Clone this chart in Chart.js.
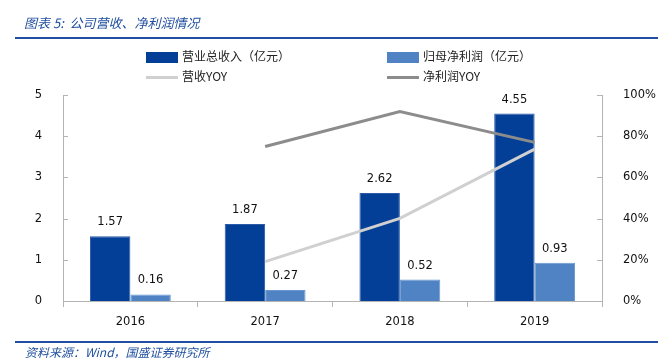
<!DOCTYPE html>
<html>
<head>
<meta charset="utf-8">
<script src="https://cdn.jsdelivr.net/npm/chart.js@4/dist/chart.umd.min.js"></script>
<style>
  html, body { margin: 0; padding: 0; background: #fff; }
  #wrap { position: relative; width: 670px; height: 362px; overflow: hidden; }
  #c { position: absolute; left: 0; top: 0; }
  .title { position: absolute; left: 24px; top: 13px; font: italic 13px "Noto Sans CJK SC", sans-serif; color: #1f4e9e; white-space: nowrap; }
  .rule { position: absolute; left: 15px; width: 643px; height: 2px; background: #1f4fa3; }
  .foot { position: absolute; left: 25px; top: 343px; font: italic 12px "Noto Sans CJK SC", sans-serif; color: #1f4e9e; white-space: nowrap; }
  .lg { position: absolute; font: 12px "Noto Sans CJK SC", sans-serif; color: #222; white-space: nowrap; line-height: 16px; }
  .sw { position: absolute; }
</style>
</head>
<body>
<div id="wrap">
  <canvas id="c" width="670" height="362"></canvas>
  <div class="title">图表 5:&nbsp; 公司营收、净利润情况</div>
  <div class="rule" style="top:37px"></div>
  <div class="rule" style="top:341px"></div>
  <div class="foot">资料来源：Wind，国盛证券研究所</div>
  <div id="legend"></div>
</div>
<script>
var years = ["2016", "2017", "2018", "2019"];
var revenue = [1.57, 1.87, 2.62, 4.55];
var netProfit = [0.16, 0.27, 0.52, 0.93];
var revenueYoy = [null, 19.1, 40.1, 73.7];
var profitYoy = [null, 75, 92, 77];
var leftTicks = [0, 1, 2, 3, 4, 5];
var rightTicks = [0, 20, 40, 60, 80, 100];

var axisColor = "#b4b4b4";
var tickFont = { family: "DejaVu Sans", size: 11.5 };

var barLabels = {
    id: "barLabels",
    afterDatasetsDraw: function(chart) {
        var ctx = chart.ctx;
        ctx.save();
        ctx.font = "11.5px 'DejaVu Sans'";
        ctx.fillStyle = "#111";
        ctx.textAlign = "center";
        ctx.textBaseline = "middle";
        chart.data.datasets.forEach(function(ds, i) {
            if (ds.type !== "bar") return;
            chart.getDatasetMeta(i).data.forEach(function(bar, j) {
                ctx.fillText(ds.data[j].toFixed(2), bar.x, bar.y - 14);
            });
        });
        ctx.restore();
    }
};

var innerTicks = {
    id: "innerTicks",
    afterDraw: function(chart) {
        var ctx = chart.ctx;
        ctx.save();
        ctx.strokeStyle = axisColor;
        ctx.lineWidth = 1;
        var y = chart.scales.y, y1 = chart.scales.y1;
        y.ticks.forEach(function(t, i) {
            var p = Math.round(y.getPixelForTick(i)) + 0.5;
            ctx.beginPath(); ctx.moveTo(y.right, p); ctx.lineTo(y.right + 5, p); ctx.stroke();
        });
        y1.ticks.forEach(function(t, i) {
            var p = Math.round(y1.getPixelForTick(i)) + 0.5;
            ctx.beginPath(); ctx.moveTo(y1.left - 5, p); ctx.lineTo(y1.left, p); ctx.stroke();
        });
        ctx.restore();
    }
};

var chart = new Chart(document.getElementById("c"), {
    data: {
        labels: years,
        datasets: [{
            type: "bar",
            label: "营业总收入（亿元）",
            data: revenue,
            backgroundColor: "#033f96",
            borderColor: "#2a5aa8",
            borderWidth: 1,
            yAxisID: "y",
            order: 1,
            categoryPercentage: 0.6,
            barPercentage: 1
        }, {
            type: "bar",
            label: "归母净利润（亿元）",
            data: netProfit,
            backgroundColor: "#4f83c4",
            borderColor: "#6a97cf",
            borderWidth: 1,
            yAxisID: "y",
            order: 1,
            categoryPercentage: 0.6,
            barPercentage: 1
        }, {
            type: "line",
            label: "营收YOY",
            data: revenueYoy,
            borderColor: "#d0d0d0",
            backgroundColor: "#d0d0d0",
            borderWidth: 3,
            pointRadius: 0,
            tension: 0,
            yAxisID: "y1",
            order: 0
        }, {
            type: "line",
            label: "净利润YOY",
            data: profitYoy,
            borderColor: "#8c8c8c",
            backgroundColor: "#8c8c8c",
            borderWidth: 3,
            pointRadius: 0,
            tension: 0,
            yAxisID: "y1",
            order: 0
        }]
    },
    options: {
        responsive: false,
        animation: false,
        layout: { padding: { top: 95, left: 0, right: 0, bottom: 0 } },
        plugins: { legend: { display: false }, tooltip: { enabled: false } },
        scales: {
            x: {
                offset: true,
                grid: { offset: true, drawOnChartArea: false, tickLength: 6, color: axisColor },
                border: { color: axisColor },
                ticks: { color: "#111", font: tickFont, padding: 8 },
                afterFit: function(s) { s.height = 61; }
            },
            y: {
                position: "left",
                min: 0, max: 5,
                afterBuildTicks: function(s) { s.ticks = leftTicks.map(function(v) { return { value: v }; }); },
                grid: { display: false },
                border: { color: axisColor },
                ticks: { color: "#111", font: tickFont, padding: 13 },
                afterFit: function(s) { s.width = 63; }
            },
            y1: {
                position: "right",
                min: 0, max: 100,
                afterBuildTicks: function(s) { s.ticks = rightTicks.map(function(v) { return { value: v }; }); },
                grid: { display: false },
                border: { color: axisColor },
                ticks: { color: "#111", font: tickFont, padding: 13,
                         callback: function(v) { return v + "%"; } },
                afterFit: function(s) { s.width = 68; }
            }
        }
    },
    plugins: [barLabels, innerTicks]
});

// legend laid out 2x2 like the original
var legendPos = [[146, 57], [387, 57], [146, 77], [387, 77]];
var legendEl = document.getElementById("legend");
chart.data.datasets.forEach(function(ds, i) {
    var p = legendPos[i];
    var sw = document.createElement("div");
    sw.className = "sw";
    var h = ds.type === "bar" ? 11 : 3;
    sw.style.cssText = "left:" + p[0] + "px;top:" + (p[1] - Math.floor(h / 2)) + "px;width:32px;height:" + h + "px;background:" + ds.backgroundColor + ";";
    legendEl.appendChild(sw);
    var t = document.createElement("div");
    t.className = "lg";
    t.style.left = (p[0] + 36) + "px";
    t.style.top = (p[1] - 9) + "px";
    t.textContent = ds.label;
    legendEl.appendChild(t);
});
</script>
</body>
</html>
